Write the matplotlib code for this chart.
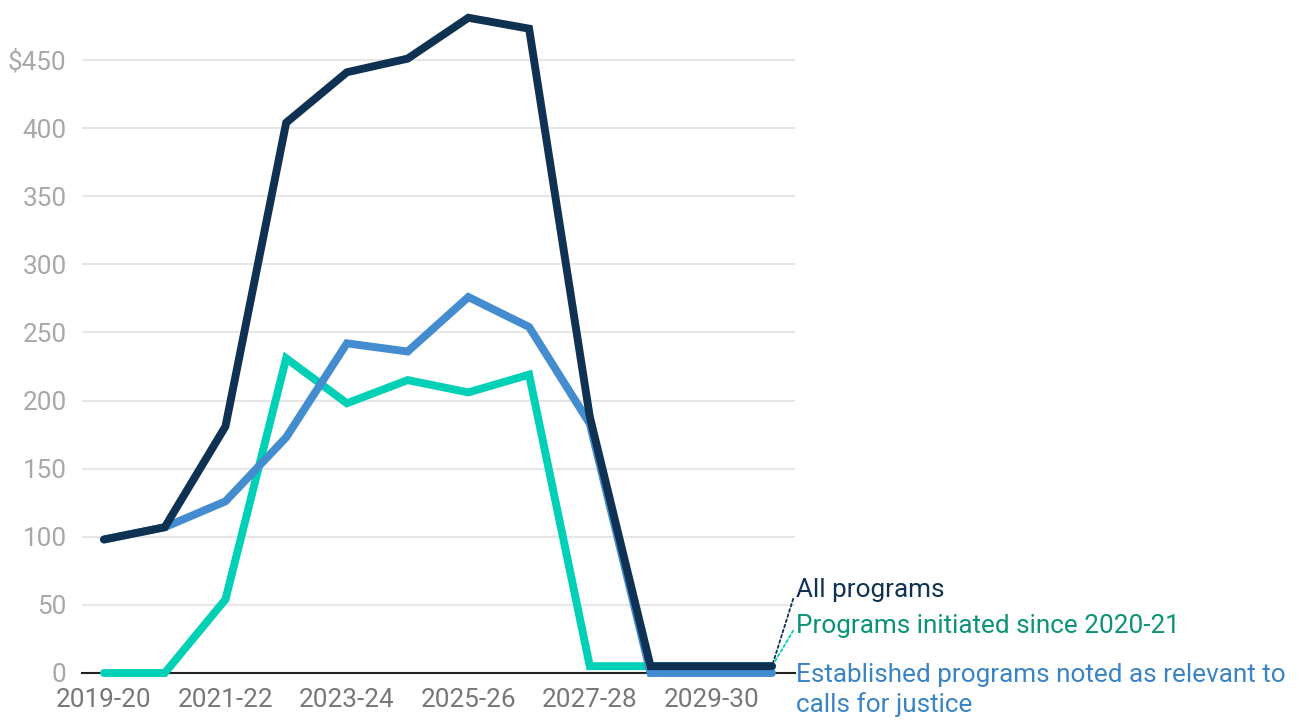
import matplotlib
matplotlib.use("Agg")
import matplotlib.pyplot as plt

years = ["2019-20", "2020-21", "2021-22", "2022-23", "2023-24", "2024-25",
         "2025-26", "2026-27", "2027-28", "2028-29", "2029-30", "2030-31"]
all_programs = [98, 107, 181, 404, 441, 451, 481, 473, 188, 5, 5, 5]
initiated = [0, 0, 54, 231, 198, 215, 206, 219, 5, 5, 5, 5]
established = [98, 107, 126, 173, 242, 236, 276, 254, 183, 0, 0, 0]
yticks = [0, 50, 100, 150, 200, 250, 300, 350, 400, 450]
ytick_labels = ["0", "50", "100", "150", "200", "250", "300", "350", "400", "$450"]
labels = ["All programs", "Programs initiated since 2020-21",
          "Established programs noted as relevant to\ncalls for justice"]

plt.rcParams['font.family'] = ['Roboto', 'DejaVu Sans']

C_DARK = "#0f3253"
C_BLUE = "#438cd0"
C_GREEN = "#00d0b5"
FS = 18.8

fig = plt.figure(figsize=(13, 7.21), dpi=100)
ax = fig.add_axes([82/1300, 1 - 673/721, (795-82)/1300, (673-5.5)/721])

x = list(range(len(years)))
lw = 5.7
ax.plot(x, initiated, color=C_GREEN, lw=lw, solid_capstyle='round', solid_joinstyle='miter', clip_on=False, zorder=3)
ax.plot(x, established, color=C_BLUE, lw=lw, solid_capstyle='round', solid_joinstyle='miter', clip_on=False, zorder=4)
ax.plot(x, all_programs, color=C_DARK, lw=lw, solid_capstyle='round', solid_joinstyle='miter', clip_on=False, zorder=5)

ax.set_xlim(-22/60.73, 11 + 23/60.73)
ax.set_ylim(0, 490)

ax.set_yticks(yticks)
ax.set_yticklabels(ytick_labels)
ax.set_xticks(x[::2])
ax.set_xticklabels(years[::2])

ax.grid(axis='y', color='#e6e6e6', lw=1.5)
ax.set_axisbelow(True)
for s in ['top', 'right', 'left']:
    ax.spines[s].set_visible(False)
ax.spines['bottom'].set_color('#222222')
ax.spines['bottom'].set_linewidth(1.5)
ax.spines['bottom'].set_zorder(2)
ax.tick_params(axis='y', length=0, pad=11, labelsize=FS, labelcolor='#a8a8a8')
ax.tick_params(axis='x', length=0, pad=11, labelsize=FS, labelcolor='#777777')

# end labels with dotted leaders
xe = len(years) - 1
ax.annotate(labels[0], xy=(xe, all_programs[-1]), xytext=(796, 721 - 590), textcoords='figure pixels',
            fontsize=FS, color=C_DARK, va='center', ha='left',
            arrowprops=dict(arrowstyle='-', linestyle=(0, (1.5, 1.5)), color=C_DARK, lw=1.3,
                            shrinkA=0, shrinkB=3, relpos=(0, 0.5)))
ax.annotate(labels[1], xy=(xe, initiated[-1]), xytext=(796, 721 - 626), textcoords='figure pixels',
            fontsize=FS, color="#0b9379", va='center', ha='left',
            arrowprops=dict(arrowstyle='-', linestyle=(0, (1.5, 1.5)), color=C_GREEN, lw=1.3,
                            shrinkA=0, shrinkB=3, relpos=(0, 0.5)))
ax.text(796, 721 - 690, labels[2], transform=None, fontsize=FS, color="#3a84c6",
        va='center', ha='left', linespacing=1.3)

fig.savefig("out.png", dpi=100)
